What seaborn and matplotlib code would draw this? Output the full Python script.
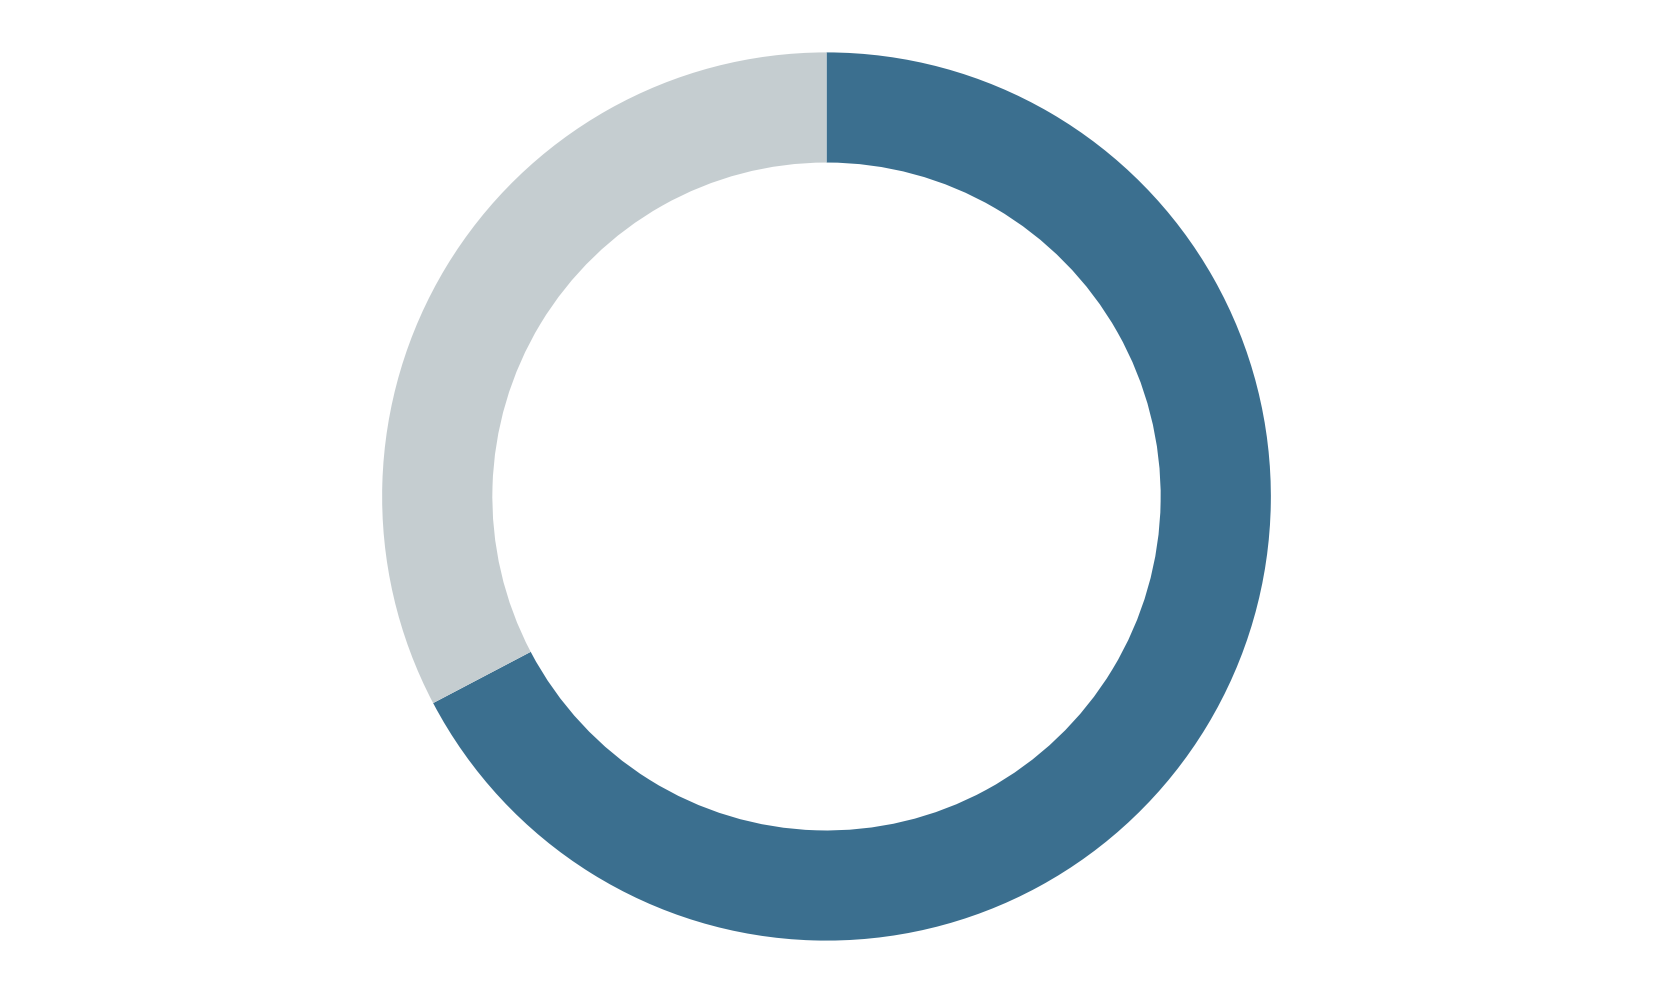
import matplotlib
matplotlib.use("Agg")
import matplotlib.pyplot as plt
import seaborn as sns

# Donut shares (dark part runs clockwise from the top)
labels = ["Share", "Remainder"]
values = [67.3, 32.7]
colors = ["#3B6F8F", "#C5CDD0"]

sns.set_theme(style="white")

fig = plt.figure(figsize=(16.53, 9.93), dpi=100)
ax = fig.add_axes([0, 0, 1, 1])

ax.pie(
    values,
    colors=colors,
    startangle=90,
    counterclock=False,
    radius=1.0,
    wedgeprops=dict(width=0.248, linewidth=0),
)
ax.set_aspect("equal", adjustable="datalim")
ax.set_ylim(-1.118, 1.118)
ax.set_xlim(-1.86, 1.86)
ax.axis("off")

fig.savefig("out.png", dpi=100, facecolor="white")
plt.close(fig)
